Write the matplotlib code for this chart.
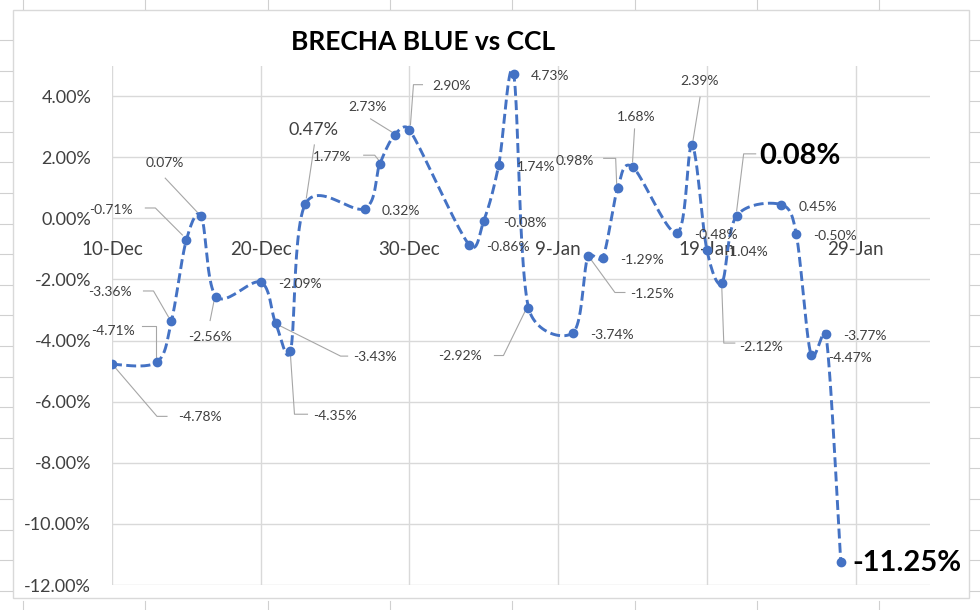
import datetime as dt
import numpy as np
import matplotlib
matplotlib.use("Agg")
import matplotlib.pyplot as plt
import matplotlib.dates as mdates
from matplotlib.lines import Line2D
from matplotlib.patches import Rectangle

plt.rcParams['font.family'] = ['Lato', 'DejaVu Sans']

# data
dates = ['2021-12-10', '2021-12-13', '2021-12-14', '2021-12-15', '2021-12-16', '2021-12-17',
         '2021-12-20', '2021-12-21', '2021-12-22', '2021-12-23', '2021-12-27', '2021-12-28',
         '2021-12-29', '2021-12-30', '2022-01-03', '2022-01-04', '2022-01-05', '2022-01-06',
         '2022-01-07', '2022-01-10', '2022-01-11', '2022-01-12', '2022-01-13', '2022-01-14',
         '2022-01-17', '2022-01-18', '2022-01-19', '2022-01-20', '2022-01-21', '2022-01-24',
         '2022-01-25', '2022-01-26', '2022-01-27', '2022-01-28']
brecha = [-4.78, -4.71, -3.36, -0.71, 0.07, -2.56,
          -2.09, -3.43, -4.35, 0.47, 0.32, 1.77,
          2.73, 2.90, -0.86, -0.08, 1.74, 4.73,
          -2.92, -3.74, -1.25, -1.29, 0.98, 1.68,
          -0.48, 2.39, -1.04, -2.12, 0.08, 0.45,
          -0.50, -4.47, -3.77, -11.25]
x_ticks = ['2021-12-10', '2021-12-20', '2021-12-30', '2022-01-09', '2022-01-19', '2022-01-29']
x_tick_labels = ['10-Dec', '20-Dec', '30-Dec', '9-Jan', '19-Jan', '29-Jan']
y_ticks = [-12, -10, -8, -6, -4, -2, 0, 2, 4]

W, H = 980, 610
BLUE = '#4472C4'
GRID = '#D9D9D9'
TXT = '#404040'
LEAD = '#A6A6A6'

# label placement per point: (dx, dy, ha, size, bold, leader path) in pixels, y downwards
R = (17, 2, 'left', 10, False, None)
label_style = [
    (88, 53, 'center', 10, False, [(3, 3), (45, 52), (55, 52)]),
    (-44, -31, 'center', 10, False, [(-15, -36), (-1, -36), (-1, -5)]),
    (-62, -29, 'center', 10, False, [(-28, -30), (-18, -30), (-3, -4)]),
    (-75, -30, 'center', 10, False, [(-41, -32), (-31, -32), (-4, -5)]),
    (-36, -53, 'center', 10, False, [(-36, -38), (-4, -4)]),
    (-6, 40, 'center', 10, False, [(-6, 24), (-2, 4)]),
    R,
    (78, 34, 'left', 10, False, [(3, 2), (65, 33), (72, 33)]),
    (23, 65, 'left', 10, False, [(0, 4), (4, 63), (17, 63)]),
    (8, -74, 'center', 13, False, [(9, -59), (1, -6)]),
    R,
    (-48, -7, 'center', 10, False, [(-16, -9), (-5, -9), (-1, -4)]),
    (-27, -28, 'center', 10, False, [(-24, -16), (-3, -3)]),
    (42, -44, 'center', 10, False, [(13, -45), (4, -45), (1, -5)]),
    R, (19, 2, 'left', 10, False, None), (18, 2, 'left', 10, False, None), R,
    (-68, 48, 'center', 10, False, [(-34, 48), (-25, 48), (-3, 3)]),
    R,
    (42, 38, 'left', 10, False, [(3, 3), (27, 36), (37, 36)]),
    R,
    (-43, -27, 'center', 10, False, [(-14, -30), (-2, -30), (-1, -4)]),
    (4, -50, 'center', 10, False, [(2, -38), (0, -5)]),
    R,
    (8, -64, 'center', 10, False, [(8, -48), (1, -5)]),
    R,
    (17, 64, 'left', 10, False, [(0, 4), (2, 60), (13, 60)]),
    (23, -60, 'left', 21, True, [(0, -5), (7, -62), (19, -62)]),
    R, R,
    (17, 3, 'left', 10, False, None),
    R,
    (12, 1, 'left', 21, True, None),
]

x = mdates.date2num([dt.datetime.strptime(d, '%Y-%m-%d') for d in dates])
y = np.array(brecha)

fig = plt.figure(figsize=(W / 100, H / 100), dpi=100)

# spreadsheet cell lines around the chart object
for cx in np.arange(23, W, 122.3):
    fig.add_artist(Line2D([cx / W] * 2, [1, 1 - 9 / H], color='#D0D0D0', lw=0.8))
    fig.add_artist(Line2D([cx / W] * 2, [0, 9 / H], color='#D0D0D0', lw=0.8))
for cy in np.arange(40, H - 5, 30.6):
    fig.add_artist(Line2D([0, 12 / W], [1 - cy / H] * 2, color='#D0D0D0', lw=0.8))
    fig.add_artist(Line2D([970 / W, 1], [1 - cy / H] * 2, color='#D0D0D0', lw=0.8))
fig.add_artist(Rectangle((13 / W, 1 - 598 / H), (969 - 13) / W, (598 - 10) / H,
                         transform=fig.transFigure, fill=False, edgecolor=GRID, lw=1))

ax = fig.add_axes([112 / W, 1 - 585 / H, (930 - 112) / W, (585 - 65.5) / H])
ax.set_xlim(mdates.date2num(dt.datetime(2021, 12, 10)), mdates.date2num(dt.datetime(2022, 2, 3)))
ax.set_ylim(-12, 5)

ax.set_xticks(mdates.date2num([dt.datetime.strptime(d, '%Y-%m-%d') for d in x_ticks]))
ax.set_xticklabels(x_tick_labels)
ax.set_yticks(y_ticks)
ax.set_yticklabels([f'{v:.2f}%' for v in y_ticks])
ax.grid(True, color=GRID, lw=1)
ax.set_axisbelow(True)
for s in ['top', 'right', 'left']:
    ax.spines[s].set_visible(False)
ax.spines['bottom'].set_position(('data', 0))
ax.spines['bottom'].set_visible(False)
ax.tick_params(axis='x', length=0, pad=16, labelsize=13.5, labelcolor=TXT)
ax.tick_params(axis='y', length=0, pad=15, labelsize=13, labelcolor=TXT)

# smoothed line (bezier through points, computed in screen space, excel-like limits)
pts = ax.transData.transform(np.column_stack([x, y]))
curve = []
n = len(pts)
t = np.linspace(0, 1, 25)[:, None]
for i in range(n - 1):
    p0 = pts[max(i - 1, 0)]
    p1 = pts[i]
    p2 = pts[i + 1]
    p3 = pts[min(i + 2, n - 1)]
    d12 = np.hypot(*(p2 - p1))
    t1 = (p2 - p0) / 6
    t2 = (p3 - p1) / 6
    if np.hypot(*t1) > d12 / 2:
        t1 = t1 * (d12 / 2) / np.hypot(*t1)
    if np.hypot(*t2) > d12 / 2:
        t2 = t2 * (d12 / 2) / np.hypot(*t2)
    c1 = p1 + t1
    c2 = p2 - t2
    seg = (1 - t) ** 3 * p1 + 3 * (1 - t) ** 2 * t * c1 + 3 * (1 - t) * t ** 2 * c2 + t ** 3 * p2
    curve.append(seg if i == 0 else seg[1:])
curve = ax.transData.inverted().transform(np.vstack(curve))
ax.plot(curve[:, 0], curve[:, 1], color=BLUE, lw=2.1, dashes=(3.4, 1.5), zorder=3)
ax.plot(x, y, 'o', color=BLUE, ms=6, zorder=4)

# data labels + leader lines
for xi, yi, st, p in zip(x, y, label_style, pts):
    dx, dy, ha, size, bold, leader = st
    ax.annotate(f'{yi:.2f}%', xy=(xi, yi), xytext=(dx, -dy), textcoords='offset pixels',
                ha=ha, va='center', fontsize=size,
                fontweight='bold' if bold else 'normal',
                color='black' if bold else TXT, zorder=5)
    if leader:
        lp = np.array([(p[0] + a, p[1] - b) for a, b in leader])
        lp = ax.transData.inverted().transform(lp)
        ax.plot(lp[:, 0], lp[:, 1], color=LEAD, lw=0.8, zorder=2, clip_on=False)

fig.text(423 / W, 1 - 42 / H, 'BRECHA BLUE vs CCL', ha='center', va='center',
         fontsize=19, fontweight='bold', color='black')

fig.savefig('out.png', dpi=100)
